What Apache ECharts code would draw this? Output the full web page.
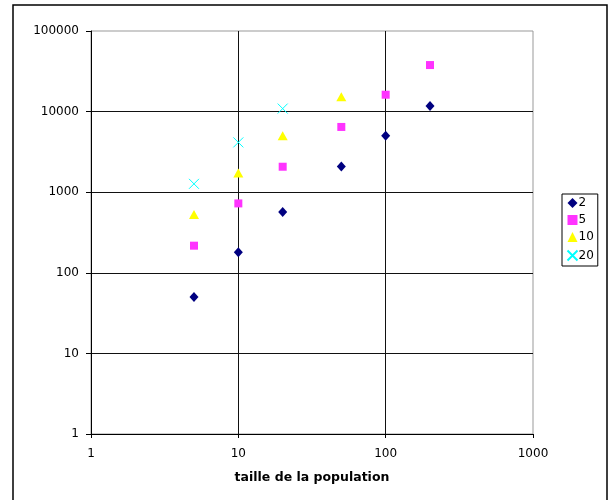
<!DOCTYPE html>
<html>
<head>
<meta charset="utf-8">
<script src="https://cdn.jsdelivr.net/npm/echarts@6/dist/echarts.min.js"></script>
<style>
  html, body { margin: 0; padding: 0; background: #fff; }
  #chart { width: 609px; height: 500px; }
</style>
</head>
<body>
<div id="chart"></div>
<script>
// taille de la population (x) for each series
const xPop = [5, 10, 20, 50, 100, 200];

// values
const serie2 = [50, 180, 570, 2090, 5000, 11700];
const serie5 = [217, 726, 2070, 6450, 16200, 37800];
const serie10 = [527, 1730, 5000, 15300];
const serie20 = [1270, 4150, 10900];

const seriesNames = ['2', '5', '10', '20'];

const toPairs = (vals) => vals.map((v, i) => [xPop[i], v]);

const chart = echarts.init(document.getElementById('chart'));

const labelFont = { fontFamily: 'DejaVu Sans', fontSize: 12, color: '#000' };
const plainNumber = (v) => String(Math.round(v));

const options = {
    animation: false,
    backgroundColor: '#fff',
    graphic: [{
        type: 'rect',
        shape: { x: 13, y: 5, width: 594, height: 500 },
        style: { fill: 'none', stroke: '#000', lineWidth: 1.5 },
        silent: true
    }],
    grid: {
        left: 91, right: 76, top: 31, bottom: 66,
        show: true,
        borderColor: '#999',
        borderWidth: 1
    },
    legend: {
        orient: 'vertical',
        left: 562,
        top: 194,
        width: 36,
        padding: [3, 4, 3, 3],
        itemGap: 5,
        itemWidth: 10,
        itemHeight: 10,
        borderColor: '#000',
        borderWidth: 1,
        backgroundColor: '#fff',
        textStyle: Object.assign({ padding: [0, 0, 0, -4] }, labelFont),
        data: seriesNames
    },
    xAxis: {
        type: 'log',
        logBase: 10,
        min: 1,
        max: 1000,
        name: 'taille de la population',
        nameLocation: 'middle',
        nameGap: 37,
        nameTextStyle: { fontFamily: 'DejaVu Sans', fontSize: 12.5, fontWeight: 'bold', color: '#000' },
        axisLine: { lineStyle: { color: '#000', width: 1 } },
        axisTick: { show: true, length: 4, lineStyle: { color: '#000' } },
        axisLabel: Object.assign({ margin: 14, formatter: plainNumber }, labelFont),
        splitLine: {
            show: true,
            showMaxLine: false,
            lineStyle: { color: '#111', width: 1 }
        }
    },
    yAxis: {
        type: 'log',
        logBase: 10,
        min: 1,
        max: 100000,
        axisLine: { show: true, lineStyle: { color: '#000', width: 1 } },
        axisTick: { show: true, length: 5, lineStyle: { color: '#000' } },
        axisLabel: Object.assign({ margin: 12, formatter: plainNumber }, labelFont),
        splitLine: {
            show: true,
            showMaxLine: false,
            lineStyle: { color: '#111', width: 1 }
        }
    },
    series: [
        {
            name: '2',
            type: 'scatter',
            symbol: 'diamond',
            symbolSize: [9, 10],
            itemStyle: { color: '#000080', opacity: 1 },
            data: toPairs(serie2)
        },
        {
            name: '5',
            type: 'scatter',
            symbol: 'rect',
            symbolSize: 8,
            itemStyle: { color: '#FF33FF', opacity: 1 },
            data: toPairs(serie5)
        },
        {
            name: '10',
            type: 'scatter',
            symbol: 'triangle',
            symbolSize: [10, 9],
            itemStyle: { color: '#FFFF00', opacity: 1 },
            data: toPairs(serie10)
        },
        {
            name: '20',
            type: 'scatter',
            symbol: 'path://M0,0L10,10M10,0L0,10',
            symbolSize: 10,
            itemStyle: { color: 'none', borderColor: '#00FFFF', borderWidth: 1, opacity: 1 },
            data: toPairs(serie20)
        }
    ]
};

chart.setOption(options, true);
</script>
</body>
</html>
